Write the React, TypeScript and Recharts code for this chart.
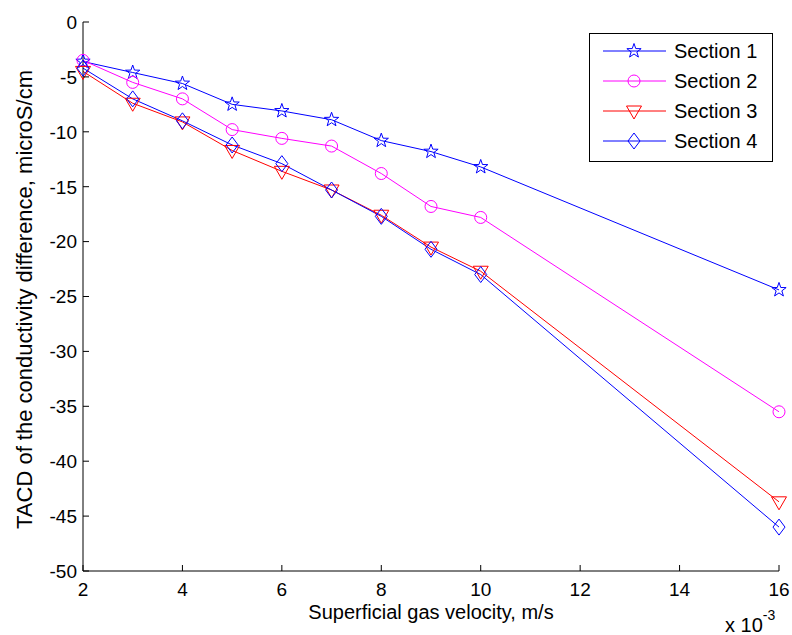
import { Line, LineChart, XAxis, YAxis } from "recharts"

// superficial gas velocity (x 10^-3 m/s)
const velocity = [2, 3, 4, 5, 6, 7, 8, 9, 10, 16]
// TACD of the conductivity difference per section (microS/cm)
const section1 = [-3.6, -4.6, -5.6, -7.5, -8.1, -8.9, -10.8, -11.8, -13.2, -24.4]
const section2 = [-3.5, -5.5, -7.0, -9.8, -10.6, -11.3, -13.8, -16.8, -17.8, -35.5]
const section3 = [-4.5, -7.4, -9.1, -11.7, -13.6, -15.3, -17.6, -20.5, -22.7, -43.7]
const section4 = [-4.2, -7.0, -9.0, -11.2, -12.9, -15.3, -17.7, -20.7, -23.0, -46.0]

const seriesNames = ["Section 1", "Section 2", "Section 3", "Section 4"]
const xTicks = [2, 4, 6, 8, 10, 12, 14, 16]
const yTicks = [0, -5, -10, -15, -20, -25, -30, -35, -40, -45, -50]

const data = velocity.map((v, i) => ({
    x: v,
    s1: section1[i],
    s2: section2[i],
    s3: section3[i],
    s4: section4[i],
}))

const FONT = '"Liberation Sans", Arial, sans-serif'

type Kind = "star" | "circle" | "triangle" | "diamond"

const series: { key: string; name: string; color: string; kind: Kind }[] = [
    { key: "s1", name: seriesNames[0], color: "#0000ff", kind: "star" },
    { key: "s2", name: seriesNames[1], color: "#ff00ff", kind: "circle" },
    { key: "s3", name: seriesNames[2], color: "#ff0000", kind: "triangle" },
    { key: "s4", name: seriesNames[3], color: "#0000ff", kind: "diamond" },
]

function starPoints(cx: number, cy: number, outer: number, inner: number) {
    const pts: string[] = []
    for (let i = 0; i < 10; i++) {
        const r = i % 2 === 0 ? outer : inner
        const a = ((-90 + i * 36) * Math.PI) / 180
        pts.push(`${cx + r * Math.cos(a)},${cy + r * Math.sin(a)}`)
    }
    return pts.join(" ")
}

function Marker({ kind, cx, cy, color }: { kind: Kind; cx: number; cy: number; color: string }) {
    const common = { fill: "none", stroke: color, strokeWidth: 1 }
    if (kind === "star") return <polygon points={starPoints(cx, cy, 7.5, 3)} {...common} />
    if (kind === "circle") return <circle cx={cx} cy={cy} r={6} {...common} />
    if (kind === "triangle")
        return <polygon points={`${cx - 7.5},${cy - 5} ${cx + 7.5},${cy - 5} ${cx},${cy + 8}`} {...common} />
    return <polygon points={`${cx},${cy - 8} ${cx + 6},${cy} ${cx},${cy + 8} ${cx - 6},${cy}`} {...common} />
}

const makeDot = (kind: Kind, color: string) => (props: any) => {
    if (props.cx == null || props.cy == null) return <g key={props.key} />
    return (
        <g key={props.key}>
            <Marker kind={kind} cx={props.cx} cy={props.cy} color={color} />
        </g>
    )
}

function BottomTick({ x, y, payload }: any) {
    return (
        <g>
            <line x1={x} y1={y} x2={x} y2={y - 6} stroke="#000" />
            <text x={x} y={y + 25} textAnchor="middle" fontSize={19} fontFamily={FONT} fill="#000">
                {payload.value}
            </text>
        </g>
    )
}

function LeftTick({ x, y, payload }: any) {
    return (
        <g>
            <line x1={x} y1={y} x2={x + 6} y2={y} stroke="#000" />
            <text x={x - 6} y={y} dy="0.36em" textAnchor="end" fontSize={19} fontFamily={FONT} fill="#000">
                {payload.value}
            </text>
        </g>
    )
}

const TopTick = ({ x, y }: any) => <line x1={x} y1={y} x2={x} y2={y + 6} stroke="#000" />
const RightTick = ({ x, y }: any) => <line x1={x} y1={y} x2={x - 6} y2={y} stroke="#000" />

function Legend() {
    const rowY = [18, 48, 78, 108]
    return (
        <svg width={184} height={129} style={{ position: "absolute", left: 589, top: 33 }}>
            <rect x={0.5} y={0.5} width={183} height={128} fill="#fff" stroke="#000" />
            {series.map((s, i) => (
                <g key={s.key}>
                    <line x1={14} x2={77} y1={rowY[i]} y2={rowY[i]} stroke={s.color} />
                    <Marker kind={s.kind} cx={45} cy={rowY[i]} color={s.color} />
                    <text x={85} y={rowY[i]} dy="0.36em" fontSize={20} fontFamily={FONT} fill="#000">
                        {s.name}
                    </text>
                </g>
            ))}
        </svg>
    )
}

export default function App() {
    return (
        <div style={{ position: "absolute", left: 0, top: 0, width: 792, height: 635, background: "#fff" }}>
            <LineChart width={792} height={635} data={data} margin={{ top: 22, right: 13, bottom: 0, left: 0 }}>
                <XAxis
                    dataKey="x"
                    type="number"
                    domain={[2, 16]}
                    ticks={xTicks}
                    height={64}
                    tickSize={0}
                    tickMargin={0}
                    tickLine={false}
                    tick={<BottomTick />}
                    stroke="#000"
                    label={{
                        content: ({ viewBox }: any) => (
                            <g fontFamily={FONT} fill="#000">
                                <text x={viewBox.x + viewBox.width / 2} y={619} textAnchor="middle" fontSize={20}>
                                    Superficial gas velocity, m/s
                                </text>
                                <text x={725} y={632} fontSize={20}>
                                    x 10
                                    <tspan dy={-12} fontSize={14}>
                                        -3
                                    </tspan>
                                </text>
                            </g>
                        ),
                    }}
                />
                <XAxis
                    xAxisId="top"
                    orientation="top"
                    dataKey="x"
                    type="number"
                    domain={[2, 16]}
                    ticks={xTicks}
                    height={0}
                    tickSize={0}
                    tickMargin={0}
                    tickLine={false}
                    tick={<TopTick />}
                    stroke="#000"
                />
                <YAxis
                    type="number"
                    domain={[-50, 0]}
                    ticks={yTicks}
                    width={83}
                    tickSize={0}
                    tickMargin={0}
                    tickLine={false}
                    tick={<LeftTick />}
                    stroke="#000"
                    label={{
                        content: ({ viewBox }: any) => {
                            const cy = viewBox.y + viewBox.height / 2 + 3
                            return (
                                <text
                                    x={32}
                                    y={cy}
                                    transform={`rotate(-90 32 ${cy})`}
                                    textAnchor="middle"
                                    fontSize={22}
                                    fontFamily={FONT}
                                    fill="#000"
                                >
                                    TACD of the conductivity difference, microS/cm
                                </text>
                            )
                        },
                    }}
                />
                <YAxis
                    yAxisId="right"
                    orientation="right"
                    type="number"
                    domain={[-50, 0]}
                    ticks={yTicks}
                    width={0}
                    tickSize={0}
                    tickMargin={0}
                    tickLine={false}
                    tick={<RightTick />}
                    stroke="#000"
                />
                {series.map((s) => (
                    <Line
                        key={s.key}
                        dataKey={s.key}
                        name={s.name}
                        type="linear"
                        stroke={s.color}
                        strokeWidth={1}
                        dot={makeDot(s.kind, s.color)}
                        activeDot={false}
                        isAnimationActive={false}
                    />
                ))}
            </LineChart>
            <Legend />
        </div>
    )
}
